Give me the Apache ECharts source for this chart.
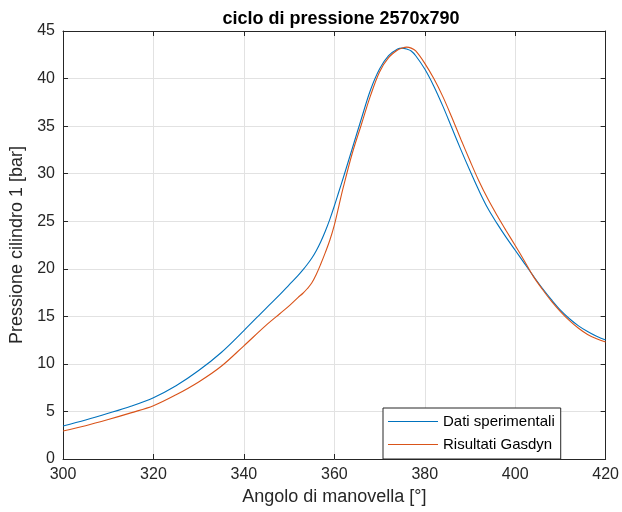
<!DOCTYPE html>
<html>
<head>
<meta charset="utf-8">
<script src="https://cdn.jsdelivr.net/npm/echarts@6/dist/echarts.min.js"></script>
<style>html,body{margin:0;padding:0;background:#fff;}#c{width:622px;height:512px;}</style>
</head>
<body>
<div id="c"></div>
<script>
var titleText = 'ciclo di pressione 2570x790';
var xName = 'Angolo di manovella [°]';
var yName = 'Pressione cilindro 1 [bar]';
var seriesNames = ['Dati sperimentali', 'Risultati Gasdyn'];
var angles = [300,305,310,315,320,325,330,335,340,345,348,350,352,353,354,355,356,357,358,359,360,361,362,364,366,368,370,372,374,375,376,377,378,380,382,384,386,388,390,392,394,396,398,400,402,404,406,408,410,412,414,416,418,420];
var datiSperimentali = [3.47,4.1,4.8,5.55,6.45,7.7,9.3,11.2,13.5,15.9,17.3,18.3,19.3,19.85,20.45,21.1,21.9,22.85,23.95,25.2,26.6,28.1,29.6,32.7,35.8,38.8,41.0,42.4,43.1,43.2,43.1,42.9,42.4,41.0,39.2,37.1,34.8,32.5,30.3,28.2,26.3,24.75,23.3,21.95,20.6,19.25,17.95,16.75,15.65,14.75,14.0,13.4,12.9,12.5];
var risultatiGasdyn = [2.94,3.5,4.15,4.85,5.6,6.75,8.1,9.75,11.9,14.1,15.3,16.1,17.0,17.4,17.9,18.5,19.4,20.5,21.7,23.0,24.6,26.6,28.6,32.2,35.2,38.2,40.7,42.2,43.0,43.2,43.3,43.2,42.9,41.6,40.0,38.1,35.9,33.6,31.35,29.2,27.3,25.6,24.0,22.45,20.85,19.2,17.85,16.6,15.5,14.55,13.75,13.1,12.65,12.3];
var xTicks = {min: 300, max: 420, interval: 20};
var yTicks = {min: 0, max: 45, interval: 5};

function pairs(xs, ys) { return xs.map(function (x, i) { return [x, ys[i]]; }); }

var FONT = "'Liberation Sans', Arial, Helvetica, sans-serif";
var AX = '#262626';
var chart = echarts.init(document.getElementById('c'), null, {renderer: 'canvas'});
var baseAxis = function (t) {
  return {
    type: 'value', min: t.min, max: t.max, interval: t.interval,
    axisLine: {show: true, onZero: false, lineStyle: {color: AX, width: 1}},
    axisTick: {show: true, inside: true, length: 5, lineStyle: {color: AX}},
    splitLine: {show: true, lineStyle: {color: '#e2e2e2', width: 1}},
    axisLabel: {color: AX, fontSize: 16, fontFamily: FONT, margin: 8}
  };
};
var xMain = baseAxis(xTicks);
xMain.position = 'bottom';
xMain.name = xName; xMain.nameLocation = 'middle'; xMain.nameGap = 26;
xMain.nameTextStyle = {color: AX, fontSize: 18, fontFamily: FONT};
var xTop = baseAxis(xTicks);
xTop.position = 'top'; xTop.axisLabel = {show: false}; xTop.splitLine = {show: false};
var yMain = baseAxis(yTicks);
yMain.position = 'left';
yMain.name = yName; yMain.nameLocation = 'middle'; yMain.nameGap = 34;
yMain.nameTextStyle = {color: AX, fontSize: 18, fontFamily: FONT};
var yRight = baseAxis(yTicks);
yRight.position = 'right'; yRight.axisLabel = {show: false}; yRight.splitLine = {show: false};

chart.setOption({
  animation: false,
  backgroundColor: '#fff',
  title: {
    text: titleText, left: 336, top: 5, textAlign: 'center',
    textStyle: {color: '#000', fontSize: 18, fontWeight: 'bold', fontFamily: FONT}
  },
  grid: {left: 63, right: 13, top: 31, bottom: 53, containLabel: false},
  xAxis: [xMain, xTop],
  yAxis: [yMain, yRight],
  legend: {
    orient: 'vertical', left: 383, top: 408,
    padding: [6, 6, 7, 5], itemGap: 8, itemWidth: 50, itemHeight: 14,
    icon: 'path://M0,0H50V1.2H0Z',
    backgroundColor: '#fff', borderColor: AX, borderWidth: 1, borderRadius: 0,
    textStyle: {color: '#000', fontSize: 15, fontFamily: FONT},
    data: seriesNames
  },
  series: [
    {
      name: seriesNames[0], type: 'line', xAxisIndex: 0, yAxisIndex: 0,
      data: pairs(angles, datiSperimentali), smooth: 0.35, symbol: 'none', showSymbol: false,
      lineStyle: {color: '#0072BD', width: 1.1}, itemStyle: {color: '#0072BD'}
    },
    {
      name: seriesNames[1], type: 'line', xAxisIndex: 0, yAxisIndex: 0,
      data: pairs(angles, risultatiGasdyn), smooth: 0.35, symbol: 'none', showSymbol: false,
      lineStyle: {color: '#D95319', width: 1.1}, itemStyle: {color: '#D95319'}
    }
  ]
});
</script>
</body>
</html>
